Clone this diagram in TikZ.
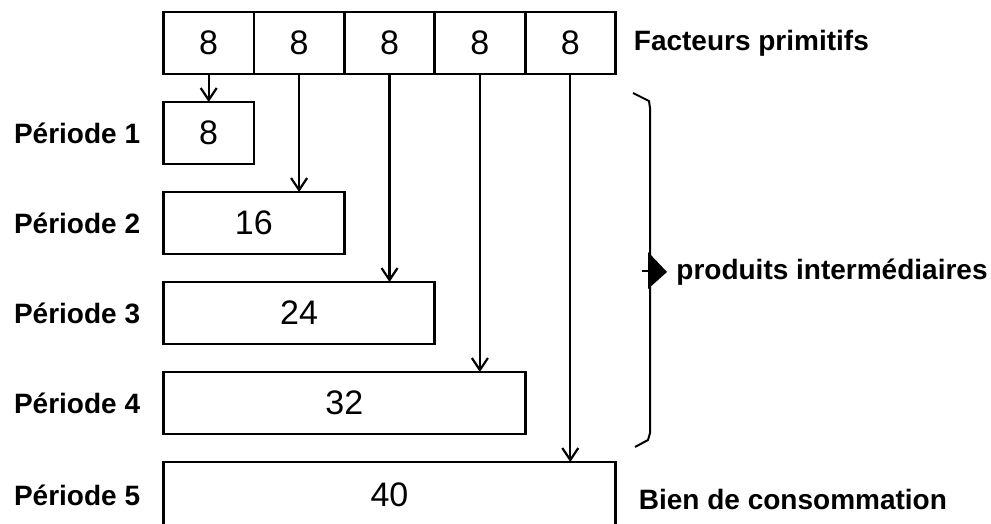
\documentclass[tikz,border=0pt]{standalone}
\usepackage{fontspec}
\setmainfont{Liberation Sans}
\usetikzlibrary{positioning,arrows.meta}

\begin{document}
\begin{tikzpicture}[
  x=0.5pt, y=-0.5pt,
  cell/.style={draw, line width=1.4pt, outer sep=0pt, inner sep=0pt,
               minimum width=45.2pt, minimum height=31pt,
               font=\fontsize{17}{19}\selectfont},
  perbox/.style={draw, line width=1.4pt, outer sep=0pt, inner sep=0pt,
                 minimum height=31pt, font=\fontsize{17}{19}\selectfont},
  lab/.style={inner sep=0pt, font=\bfseries\fontsize{14}{16}\selectfont},
  flow/.style={-{Straight Barb[length=6pt,width=8pt]}, line width=1.1pt},
]
\useasboundingbox (0,0) rectangle (991,524);

% --- primary factors ---
\node[cell, anchor=north west] (f1) at (163.5,12) {8};
\node[cell, right=0pt of f1] (f2) {8};
\node[cell, right=0pt of f2] (f3) {8};
\node[cell, right=0pt of f3] (f4) {8};
\node[cell, right=0pt of f4] (f5) {8};
\node[lab, right=9pt of f5] (fact) {Facteurs primitifs};

% --- periods ---
\node[perbox, minimum width=45.2pt,
      below=14pt of f1.south west, anchor=north west] (p1) {8};
\node[perbox, minimum width=90.4pt,
      below=14pt of p1.south west, anchor=north west] (p2) {16};
\node[perbox, minimum width=135.6pt,
      below=14pt of p2.south west, anchor=north west] (p3) {24};
\node[perbox, minimum width=180.8pt,
      below=14pt of p3.south west, anchor=north west] (p4) {32};
\node[perbox, minimum width=226pt, minimum height=33pt,
      below=14pt of p4.south west, anchor=north west] (p5) {40};

\node[lab, left=11.5pt of p1] (l1) {Période 1};
\node[lab, left=11.5pt of p2] (l2) {Période 2};
\node[lab, left=11.5pt of p3] (l3) {Période 3};
\node[lab, left=11.5pt of p4] (l4) {Période 4};
\node[lab, left=11.5pt of p5] (l5) {Période 5};
\node[lab, right=11.5pt of p5, yshift=-2pt] (bien) {Bien de consommation};

% --- flows ---
\draw[flow] (f1.south) -- (f1.south |- p1.north);
\draw[flow] (f2.south) -- (f2.south |- p2.north);
\draw[flow] (f3.south) -- (f3.south |- p3.north);
\draw[flow] (f4.south) -- (f4.south |- p4.north);
\draw[flow] (f5.south) -- (f5.south |- p5.north);

% --- brace ---
\draw[line width=1pt, line join=round] (633,93) -- (649,101) -- (650,108)
  -- (650,433) -- (648,440) -- (635,447);
\draw[line width=1pt] (642,271) -- (650,271);
\fill (648,252) -- (667,272) -- (648,289) -- cycle;
\coordinate (tip) at (667,272);
\node[lab, right=4.5pt of tip] (inter) {produits intermédiaires};
\end{tikzpicture}
\end{document}
